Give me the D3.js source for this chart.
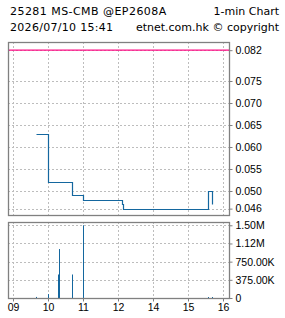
<!DOCTYPE html>
<html>
<head>
<meta charset="utf-8">
<script src="https://cdn.jsdelivr.net/npm/d3@7/dist/d3.min.js"></script>
<style>
  body { margin: 0; background: #fff; }
  svg { display: block; }
  .hdr { font-family: "DejaVu Sans", sans-serif; font-size: 11px; fill: #000; }
  .tk text { font-family: "Liberation Sans", Arial, sans-serif; font-size: 10.5px; fill: #000; }
</style>
</head>
<body>
<div id="chart"></div>
<script>
// header
var titleLeft = "25281 MS-CMB @EP2608A",
    titleRight = "1-min Chart",
    stampLeft = "2026/07/10 15:41",
    stampRight = "etnet.com.hk \u00a9 copyright";

// price trades (step line) and reference line
var priceTimes = ["09:39", "10:00", "10:41", "11:00", "13:06", "13:08", "15:34", "15:41"];
var priceValues = [0.063, 0.052, 0.049, 0.048, 0.047, 0.046, 0.050, 0.047];
var refPrice = 0.082;

// volume
var volTimes = ["09:39", "10:00", "10:17", "10:19", "10:41", "11:00", "15:34", "15:41"];
var volValues = [22000, 80000, 485000, 1010000, 485000, 1500000, 20000, 20000];

// axes
var xTickMins = [0, 60, 120, 180, 240, 300, 360];
var xTickLabels = ["09", "10", "11", "12", "14", "15", "16"];
var priceTicks = [0.046, 0.050, 0.055, 0.060, 0.065, 0.070, 0.075, 0.082];
var volTicks = [0, 375000, 750000, 1125000, 1500000];
var volTickLabels = ["0", "375.00K", "750.00K", "1.12M", "1.50M"];

var width = 285, height = 318,
    left = 8, right = 229,
    top1 = 42, bot1 = 215,
    top2 = 222, bot2 = 298,
    lineColour = "#14679f",
    gridColour = "#bdbdbd",
    frameColour = "#808080";

// minutes into the session, lunch hour squeezed out
function sess(t) {
  var p = t.split(":"), m = (+p[0]) * 60 + (+p[1]) - 540;
  if (m >= 240) m -= 60;
  return m;
}

var svg = d3.select("#chart").append("svg")
    .attr("width", width)
    .attr("height", height);

svg.append("text").attr("class", "hdr").attr("x", 10).attr("y", 15)
    .style("letter-spacing", "0.45px").text(titleLeft);
svg.append("text").attr("class", "hdr").attr("x", 279).attr("y", 15)
    .attr("text-anchor", "end").text(titleRight);
svg.append("text").attr("class", "hdr").attr("x", 10).attr("y", 30.5)
    .style("letter-spacing", "0.3px").text(stampLeft);
svg.append("text").attr("class", "hdr").attr("x", 279).attr("y", 30.5)
    .attr("text-anchor", "end").text(stampRight);

var xScale = d3.scaleLinear().domain([0, 360]).range([13, 223]);
var yPrice = d3.scaleLinear().domain([0.04455, 0.08386]).range([bot1, top1]);
var yVol = d3.scaleLinear().domain([0, 1568000]).range([bot2, top2]);

function grid(g, yS, ticks, y0, y1) {
  g.selectAll(".hg").data(ticks).enter().append("line")
    .attr("x1", left).attr("x2", right)
    .attr("y1", function(d) { return Math.round(yS(d)) + 0.5; })
    .attr("y2", function(d) { return Math.round(yS(d)) + 0.5; })
    .attr("stroke", gridColour).attr("stroke-dasharray", "2,2");
  g.selectAll(".vg").data(xTickMins).enter().append("line")
    .attr("x1", function(d) { return Math.round(xScale(d)) + 0.5; })
    .attr("x2", function(d) { return Math.round(xScale(d)) + 0.5; })
    .attr("y1", y0).attr("y2", y1)
    .attr("stroke", gridColour).attr("stroke-dasharray", "2,2");
}

// price panel
var g1 = svg.append("g");
grid(g1, yPrice, priceTicks, top1, bot1);

g1.append("line")
    .attr("x1", left).attr("x2", right)
    .attr("y1", yPrice(refPrice)).attr("y2", yPrice(refPrice))
    .attr("stroke", "#ff0a84").attr("stroke-width", 1.3);

var pts = priceTimes.map(function(t, i) { return [sess(t), priceValues[i]]; });
var line = d3.line()
    .x(function(d) { return Math.round(xScale(d[0])) + 0.5; })
    .y(function(d) { return Math.round(yPrice(d[1])) + 0.5; })
    .curve(d3.curveStepAfter);
g1.append("path").datum(pts)
    .attr("fill", "none").attr("stroke", lineColour).attr("stroke-width", 1.2)
    .attr("d", line);

var yAx1 = d3.axisRight(yPrice).tickValues(priceTicks).tickFormat(d3.format(".3f"))
    .tickSize(3).tickPadding(3);
var ax1 = svg.append("g").attr("class", "tk")
    .attr("transform", "translate(" + (right + 0.5) + ",0)").call(yAx1);

// volume panel
var g2 = svg.append("g");
grid(g2, yVol, volTicks, top2, bot2);

g2.selectAll(".bar").data(volValues).enter().append("rect")
    .attr("x", function(d, i) { return Math.round(xScale(sess(volTimes[i]))); })
    .attr("width", 1)
    .attr("y", function(d) { return yVol(d); })
    .attr("height", function(d) { return bot2 - yVol(d); })
    .attr("fill", lineColour);

var yAx2 = d3.axisRight(yVol).tickValues(volTicks)
    .tickFormat(function(d, i) { return volTickLabels[i]; })
    .tickSize(3).tickPadding(3);
var ax2 = svg.append("g").attr("class", "tk")
    .attr("transform", "translate(" + (right + 0.5) + ",0)").call(yAx2);

var xAx = d3.axisBottom(xScale).tickValues(xTickMins)
    .tickFormat(function(d, i) { return xTickLabels[i]; })
    .tickSize(3).tickPadding(2);
var ax3 = svg.append("g").attr("class", "tk")
    .attr("transform", "translate(0," + (bot2 + 0.5) + ")").call(xAx);

[ax1, ax2, ax3].forEach(function(a) {
  a.select(".domain").remove();
  a.selectAll(".tick line").attr("stroke", frameColour);
});
ax3.selectAll(".tick").attr("transform", function(d) {
  return "translate(" + (Math.round(xScale(d)) + 0.5) + ",0)";
});

// frames
[[top1, bot1], [top2, bot2]].forEach(function(p) {
  svg.append("rect")
    .attr("x", left + 0.5).attr("y", p[0] + 0.5)
    .attr("width", right - left).attr("height", p[1] - p[0])
    .attr("fill", "none").attr("stroke", frameColour).attr("stroke-width", 1.3);
});
</script>
</body>
</html>
